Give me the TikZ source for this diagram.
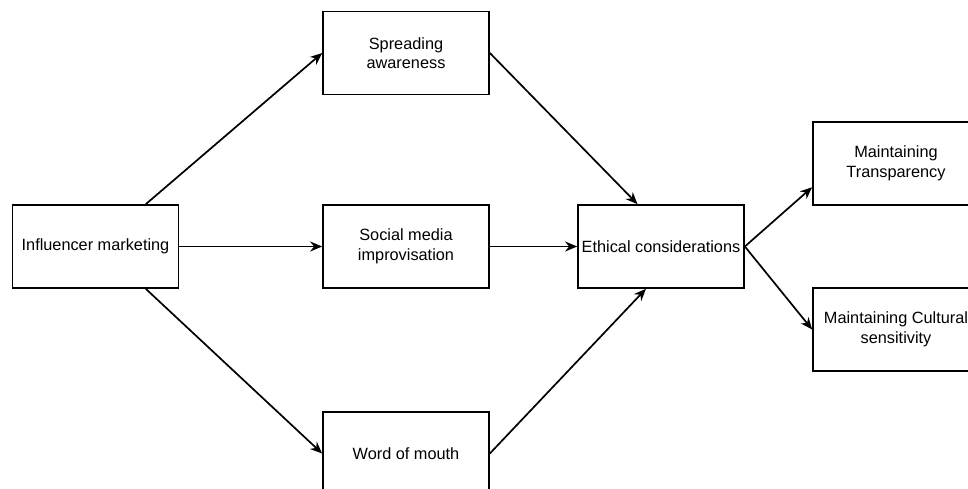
\documentclass[tikz,border=0pt]{standalone}
\usepackage{fontspec}
\setmainfont{Liberation Sans}
\usepackage{tikz}
\usetikzlibrary{positioning,arrows.meta,calc}

\begin{document}
\begin{tikzpicture}[x=1pt,y=-1pt,
  box/.style={draw,line width=1.7pt,minimum width=166pt,minimum height=83pt,align=center,font=\fontsize{16.3}{19.5}\selectfont,inner sep=2pt},
  flow/.style={line width=1.7pt,-{Stealth[length=12pt,width=10pt]}}]
\useasboundingbox (0,0) rectangle (968,489);
% first column, three channels in the middle
\node[box] (infl) at (95.5,246.5) {Influencer marketing};
\node[box] (spread) at (406,53) {Spreading\\awareness};
\node[box] (social) at (406,246.5) {Social media\\improvisation};
\node[box] (word) at (406,453.5) {Word of mouth};
% ethics and the two outcomes on the right
\node[box] (ethic) at (661,246.5) {Ethical considerations};
\node[box] (transp) at (896,163.5) {Maintaining\\Transparency};
\node[box] (cult) at (896,329.5) {Maintaining Cultural\\sensitivity};
% connectors
\draw[flow] ($(infl.north west)!0.8!(infl.north east)$) -- (spread.west);
\draw[flow] (infl.east) -- (social.west);
\draw[flow] ($(infl.south west)!0.8!(infl.south east)$) -- (word.west);
\draw[flow] (spread.east) -- ($(ethic.north west)!0.36!(ethic.north east)$);
\draw[flow] (social.east) -- (ethic.west);
\draw[flow] (word.east) -- ($(ethic.south west)!0.41!(ethic.south east)$);
\draw[flow] (ethic.east) -- ($(transp.north west)!0.78!(transp.south west)$);
\draw[flow] (ethic.east) -- (cult.west);
\end{tikzpicture}
\end{document}
